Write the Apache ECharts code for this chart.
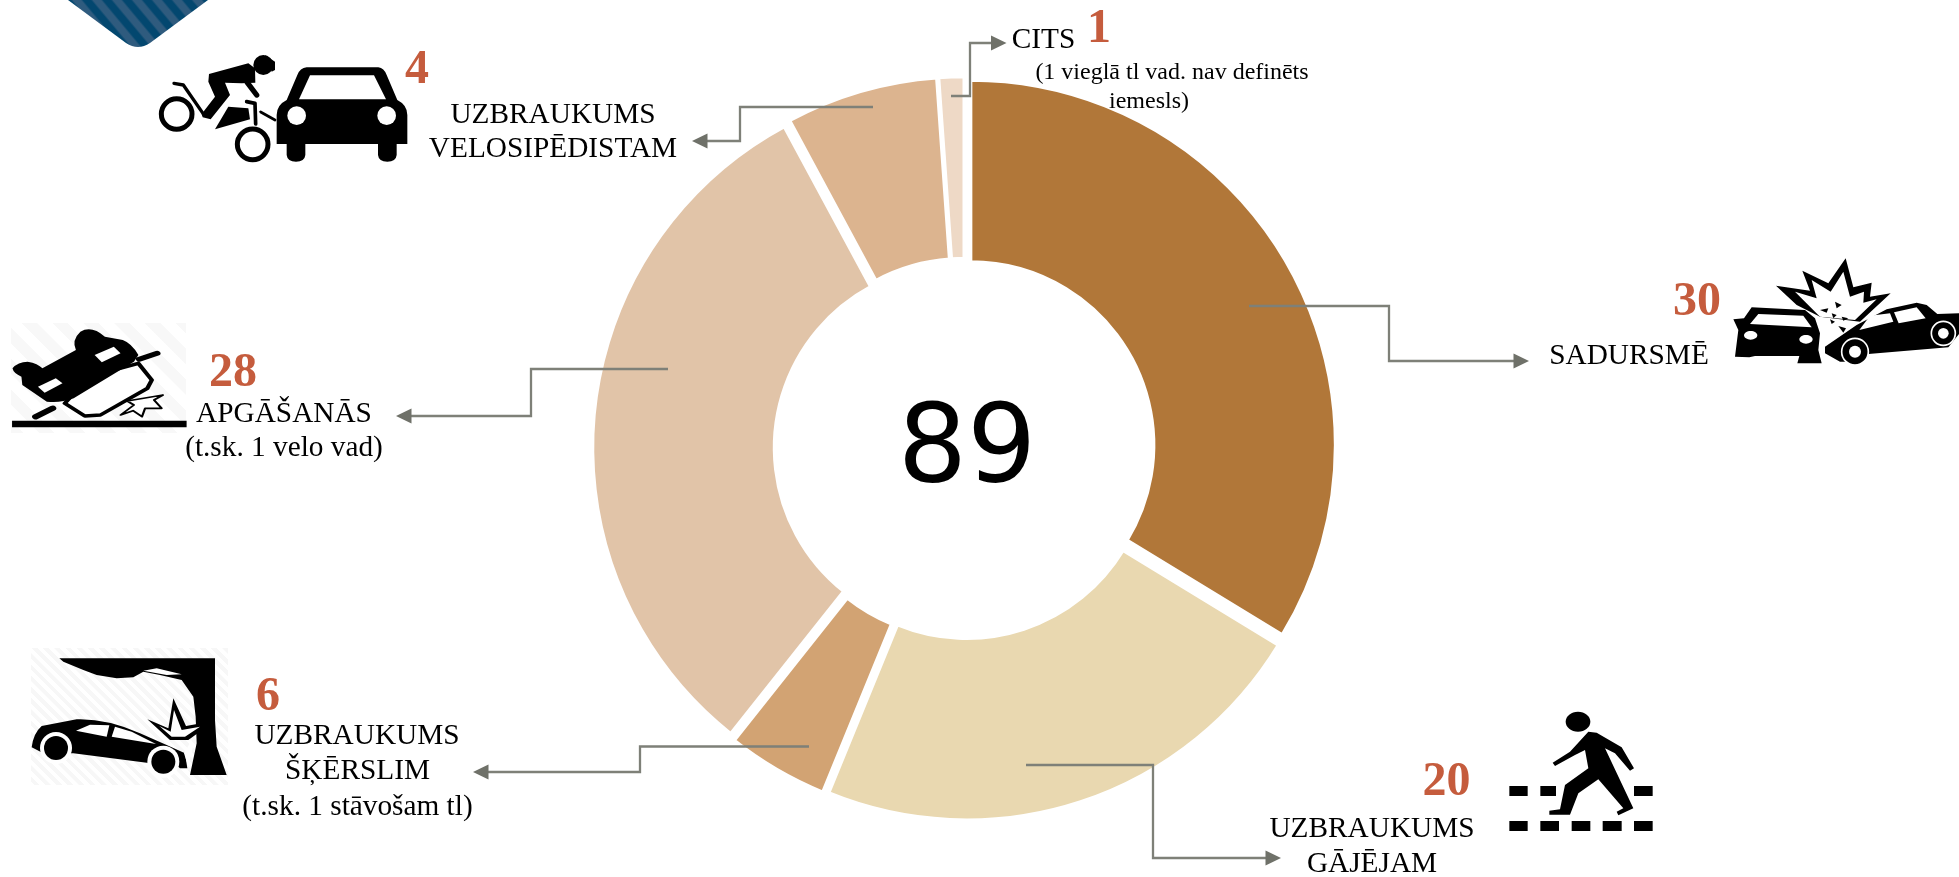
<!DOCTYPE html>
<html>
<head>
<meta charset="utf-8">
<style>html,body{margin:0;padding:0;background:#fff}#c{width:1959px;height:877px}</style>
<script src="https://cdn.jsdelivr.net/npm/echarts@6/dist/echarts.min.js"></script>
</head>
<body>
<div id="c"></div>
<script>
// ---- data ----
const categories = ['SADURSMĒ', 'UZBRAUKUMS GĀJĒJAM', 'UZBRAUKUMS ŠĶĒRSLIM', 'APGĀŠANĀS', 'UZBRAUKUMS VELOSIPĒDISTAM', 'CITS'];
// slice sizes as drawn (the 4 and 6 wedges are what the picture's angles show)
const sliceValues = [30, 20, 4, 28, 6, 1];
const sliceColors = ['#B17739', '#E9D8B0', '#D2A373', '#E1C4A8', '#DCB48F', '#EED9C6'];
// numbers printed beside each callout
const calloutCounts = ['30', '20', '6', '28', '4', '1'];
const centerTotal = '89';
const calloutLines = [
  ['SADURSMĒ'],
  ['UZBRAUKUMS', 'GĀJĒJAM'],
  ['UZBRAUKUMS', 'ŠĶĒRSLIM', '(t.sk. 1 stāvošam tl)'],
  ['APGĀŠANĀS', '(t.sk. 1 velo vad)'],
  ['UZBRAUKUMS', 'VELOSIPĒDISTAM'],
  ['CITS']
];
const citsNote = ['(1 vieglā tl vad. nav definēts', 'iemesls)'];

// ---- layout ----
const countPos = [[1697,302.5],[1446.5,782.5],[268,697.5],[233,373.5],[417,70.5],[1099,30]];
const linePos = [
  [[1629,356.5]],
  [[1372,829],[1372,864]],
  [[357,736.5],[357.5,771.5],[357.5,807.5]],
  [[284,414],[284,448]],
  [[553,115],[553,149]],
  [[1043.5,40]]
];
const notePos = [[1172,73],[1149,102]];
const leaders = [
  [[1249,306],[1389,306],[1389,361],[1516,361]],
  [[1026,765],[1153,765],[1153,858],[1268,858]],
  [[809,746.5],[640,746.5],[640,772],[486,772]],
  [[668,369],[531,369],[531,416],[409,416]],
  [[873,107],[740,107],[740,141],[705,141]],
  [[951,96],[970,96],[970,43],[993,43]]
];
const tips = [[1529,361,1],[1281,858,1],[473,772,-1],[396,416,-1],[692,141,-1],[1006.5,43,1]];

const SERIF = '"Liberation Serif","Times New Roman",serif';
const g = [];
let pathId = 0;
function pathEl(d,fill,z){
  const name='iconPath'+(pathId++);
  echarts.graphic.registerShape(name,echarts.graphic.extendPath(d));
  return {type:name,z:z||0,style:{fill:fill}};
}
function pts(s){return s.trim().split(/\s+/).map(p=>p.split(',').map(Number));}
function poly(s,fill,stroke,lw){return {type:'polygon',shape:{points:pts(s)},style:{fill:fill,stroke:stroke||null,lineWidth:lw||0,lineJoin:'round'}};}
function pl(s,lw,c){return {type:'polyline',shape:{points:pts(s)},style:{stroke:c||'#000',lineWidth:lw,fill:null,lineCap:'round',lineJoin:'round'}};}
function circ(cx,cy,r,fill,stroke,lw){return {type:'circle',shape:{cx,cy,r},style:{fill:fill,stroke:stroke||null,lineWidth:lw||0}};}
function ell(cx,cy,rx,ry,fill){return {type:'ellipse',shape:{cx,cy,rx,ry},style:{fill:fill}};}
function rect(x,y,w,h,fill){return {type:'rect',shape:{x,y,width:w,height:h},style:{fill:fill}};}
function stripeFill(x0,y0,dx,dy,period,n,c1,c2,soft){
  const stops=[];
  for(let i=0;i<n;i++){
    const a=i/n,b=(i+0.5)/n,e=(i+1)/n,s=(soft||0)/n;
    stops.push({offset:a+s,color:c1},{offset:b-s,color:c1},{offset:b+s,color:c2},{offset:e-s,color:c2});
  }
  return {type:'linear',global:true,x:x0,y:y0,x2:x0+dx*period*n,y2:y0+dy*period*n,colorStops:stops};
}

// ---- banner corner ----
g.push(pathEl('M68 0 L126 43 Q138 51 150 43 L208 0 Z',stripeFill(40,70,0.768,-0.64,15.4,16,'#03476F','#2F5B7E',0.06),1));

// ---- cyclist & car icon ----
g.push({type:'group',x:140,y:40,scaleX:1/3,scaleY:1/3,children:[
  circ(110,222,46,'none','#000',15),
  circ(338,313,46,'none','#000',15),
  pl('102,130 130,135 193,226',10),
  pl('362,216 405,240',8),
  pl('320,185 345,190 347,252',11),
  poly('265,200 325,205 330,238 225,268','#000'),
  circ(370,75,30,'#000'),
  poly('375,45 405,65 405,90 395,95 385,70','#000'),
  poly('207,102 325,70 345,85 346,128 305,130 255,128 270,165 212,238 188,232 185,222 225,170 205,125','#000'),
  pl('322,128 350,165',16),
  // car
  pathEl('M500 82 L715 82 Q732 84 740 105 L772 180 Q802 195 802 225 L802 312 L770 312 L770 345 Q768 365 742 365 Q716 365 714 345 L714 312 L496 312 L496 345 Q494 365 468 365 Q442 365 440 345 L440 312 L410 312 L410 225 Q410 195 440 180 L472 105 Q480 84 500 82 Z','#000'),
  poly('510,106 702,106 738,178 477,178','#fff'),
  circ(470,227,28,'#fff'),
  circ(740,227,28,'#fff')
]});

// ---- roll-over icon ----
g.push(Object.assign(rect(11,323,175,110,stripeFill(0,440,0.7,-0.7,22,20,'#fff','#f8f8f8',0.008)),{z:1}));
g.push({type:'group',x:0,y:0,scaleX:1/2.24,scaleY:1/3,z:2,children:[
  Object.assign(rect(27,1262,391,20,'#000'),{z:2}),
  Object.assign(poly('270,1245 300,1215 285,1203 365,1185 345,1200 362,1225 325,1225 318,1250 298,1232','#fff','#000',5),{z:2}),
  Object.assign(poly('145,1210 190,1248 225,1245 330,1165 340,1140 310,1090 200,1130','#fff','#000',10),{z:2}),
  Object.assign(pl('80,1250 118,1225',16),{z:2}),
  Object.assign(pl('312,1078 352,1060',15),{z:2}),
  pathEl('M28 1105 Q40 1085 62 1085 Q85 1090 95 1105 L170 1050 Q160 1020 180 995 Q205 975 235 1010 L275 1020 Q295 1030 310 1065 L300 1085 L165 1195 Q135 1210 105 1205 L50 1155 L48 1130 Q30 1120 28 1105 Z','#000',2),
  Object.assign(poly('85,1160 125,1135 140,1150 100,1178','#fff'),{z:2}),
  Object.assign(poly('212,1065 255,1040 270,1060 228,1087','#fff'),{z:2})
]});

// ---- crash icon ----
g.push({type:'group',x:1700,y:250,scaleX:1/3,scaleY:1/3,children:[
  poly('228,107 330,122 307,62 385,100 437,25 460,112 515,98 510,140 572,130 480,215 360,200 290,165','#000'),
  poly('285,125 350,145 335,90 392,125 430,65 450,140 492,125 490,158 530,148 465,210 360,200','#fff'),
  poly('100,208 132,205 155,172 315,180 345,205 360,250 355,300 365,340 292,340 298,318 165,318 148,322 105,320 115,240','#000'),
  poly('150,222 175,192 310,197 335,232','#fff'),
  ell(152,256,20,13,'#fff'),
  ell(318,268,20,13,'#fff'),
  poly('375,290 470,225 560,178 650,158 680,165 712,192 777,190 777,252 745,292 505,312 480,335 420,335 375,310','#000'),
  poly('478,240 510,197 570,190 580,215','#fff'),
  poly('582,187 650,172 677,205 596,220','#fff'),
  circ(465,305,40,'#000','#fff',5),
  circ(465,305,18,'#fff'),
  circ(730,250,36,'#000','#fff',5),
  circ(730,250,16,'#fff'),
  poly('405,155 425,165 410,175','#000'),
  poly('360,180 385,175 380,188','#000'),
  poly('395,190 410,195 400,205','#000'),
  poly('425,200 445,205 430,212','#000'),
  poly('390,208 405,215 395,222','#000'),
  poly('415,228 438,235 430,248','#000')
]});

// ---- tree icon ----
g.push(Object.assign(rect(31,648,197,137,stripeFill(0,790,0.7,-0.7,8,44,'#fff','#f7f7f7',0.004)),{z:1}));
const treeKids=[
  poly('178,115 645,115 645,300 650,380 680,465 570,465 590,370 587,290 580,230 545,180 480,165 430,155 400,172 350,175 290,165 250,150 190,125','#000'),
  poly('430,152 470,145 545,163 500,165','#fff'),
  poly('520,235 558,318 645,302 565,360 510,360 442,298 505,325','#000'),
  poly('522,270 545,330 600,320 555,350 515,350 478,318 512,335','#fff'),
  pathEl('M95 382 Q100 340 125 318 L230 298 Q320 295 420 340 L500 375 L555 400 L562 445 L540 445 L525 432 L440 428 L220 400 L130 400 L95 382 Z','#000'),
  poly('228,332 270,314 328,316 320,350','#fff'),
  poly('335,350 345,320 395,335 468,372','#fff'),
  circ(168,384,48,'#fff'),
  circ(168,384,36,'#000'),
  circ(490,425,48,'#fff'),
  circ(490,425,36,'#000'),
  poly('552,400 575,360 580,375 565,440','#fff')
];
treeKids.forEach(k=>k.z=2);
g.push({type:'group',x:0,y:620,scaleX:1/3,scaleY:1/3,z:2,children:treeKids});

// ---- pedestrian icon ----
g.push({type:'group',x:1250,y:690,scaleX:1/3,scaleY:1/3,children:[
  rect(778,288,55,30,'#000'),rect(871,288,47,30,'#000'),rect(1152,288,56,30,'#000'),
  rect(778,393,55,30,'#000'),rect(871,393,56,30,'#000'),rect(965,393,56,30,'#000'),rect(1058,393,57,30,'#000'),rect(1152,393,56,30,'#000'),
  ell(984,95,37,30,'#000'),
  poly('1015,125 1040,128 1115,172 1152,235 1140,242 1095,190 1065,175 1150,355 1105,376 1100,365 1120,355 1045,268 985,310 960,374 898,374 898,362 930,358 945,285 1015,235 1005,180 975,195 915,228 908,218 960,185','#000')
]});

// ---- leaders ----
leaders.forEach(l=>g.push({type:'polyline',z:10,shape:{points:l},style:{stroke:'#7E8078',lineWidth:2.3,fill:null}}));
tips.forEach(t=>g.push({type:'polygon',z:10,shape:{points:[[t[0],t[1]],[t[0]-15.5*t[2],t[1]-7.5],[t[0]-15.5*t[2],t[1]+7.5]]},style:{fill:'#6F7169'}}));

// ---- texts ----
function txt(s,x,y,size,color,weight,font){
  g.push({type:'text',z:11,x:x,y:y,style:{text:s,fill:color,font:(weight||'normal')+' '+size+'px '+(font||SERIF),textAlign:'center',textVerticalAlign:'middle'}});
}
calloutCounts.forEach((c,i)=>txt(c,countPos[i][0],countPos[i][1],48,'#C55C3D','bold'));
calloutLines.forEach((ls,i)=>ls.forEach((s,j)=>txt(s,linePos[i][j][0],linePos[i][j][1],29.3,'#000')));
citsNote.forEach((s,i)=>txt(s,notePos[i][0],notePos[i][1],24,'#000'));
txt(centerTotal,967,453,109,'#000','normal','"DejaVu Sans",sans-serif');

const chart = echarts.init(document.getElementById('c'));
chart.setOption({
  animation:false,
  backgroundColor:'#fff',
  graphic:{elements:g},
  series:[{
    type:'pie',
    center:[964.5,448.5],
    radius:[183,365],
    startAngle:90,
    clockwise:true,
    selectedMode:'multiple',
    selectedOffset:7,
    label:{show:false},
    labelLine:{show:false},
    itemStyle:{borderColor:'#fff',borderWidth:3.5},
    emphasis:{disabled:true},
    data:categories.map((n,i)=>({name:n,value:sliceValues[i],selected:true,itemStyle:{color:sliceColors[i]}}))
  }]
});
</script>
</body>
</html>
